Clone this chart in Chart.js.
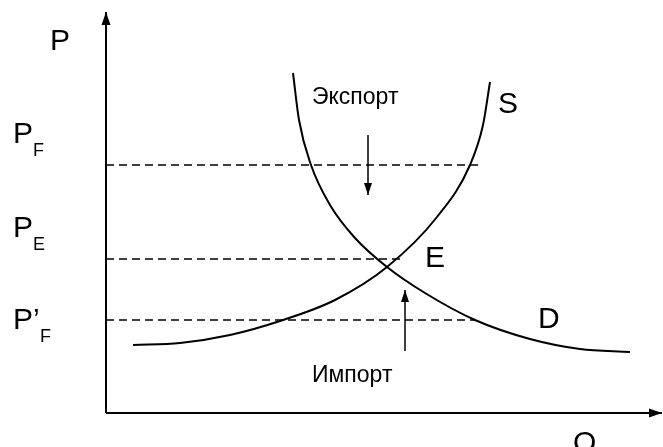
<!DOCTYPE html>
<html>
<head>
<meta charset="utf-8">
<script src="https://cdn.jsdelivr.net/npm/chart.js@4"></script>
<style>
   body { margin: 0; background: #fff; }
   #wrap { width: 663px; height: 447px; }
</style>
</head>
<body>
<div id="wrap"><canvas id="chart"></canvas></div>
<script>
// supply and demand curves (Q, P)
const supplyQ = [2.7, 7.4, 12.4, 17.4, 22.9, 28.1, 33.1, 36.4, 37.7, 38.4];
const supplyP = [6.8, 7.0, 7.8, 9.2, 11.3, 14.6, 19.6, 24.8, 28.8, 33.1];
const demandQ = [18.7, 19.3, 20.5, 22.4, 24.9, 28.1, 31.9, 36.9, 42.4, 47.4, 52.4];
const demandP = [34.0, 29.3, 24.8, 20.8, 17.5, 14.6, 12.0, 9.3, 7.4, 6.4, 6.1];

// price levels and where their dashed lines stop
const priceLevels = [24.8, 15.4, 9.3];
const priceLineEnds = [37.2, 29.9, 36.9];

// export / import arrows: [q, pFrom, pTo]
const exportArrow = [26.2, 27.8, 21.8];
const importArrow = [29.9, 6.2, 12.3];

const axisMaxQ = 55.6;
const axisMaxP = 40.1;

const pairs = (xs, ys) => xs.map((x, i) => ({x: x, y: ys[i]}));

const FONT = "'Liberation Sans', Arial, sans-serif";

// text labels, positioned in data units: [text, q, p, size]
const labels = [
   ["P", -5.6, 36.3, 30],
   ["P", -9.3, 27.0, 30], ["F", -7.3, 25.7, 18],
   ["P", -9.3, 17.6, 30], ["E", -7.3, 16.3, 18],
   ["P’", -9.3, 8.4, 30], ["F", -6.6, 7.1, 18],
   ["Экспорт", 20.6, 30.9, 23],
   ["Импорт", 20.6, 3.1, 23],
   ["S", 39.2, 30.0, 30],
   ["E", 31.9, 14.6, 30],
   ["D", 43.2, 8.5, 30],
   ["Q", 46.7, -3.85, 30]
];

const black = "#000";

const datasets = [
   {data: pairs(supplyQ, supplyP), borderWidth: 2, cubicInterpolationMode: "monotone"},
   {data: pairs(demandQ, demandP), borderWidth: 2, cubicInterpolationMode: "monotone"}
];
priceLevels.forEach((p, i) => {
   datasets.push({data: [{x: 0, y: p}, {x: priceLineEnds[i], y: p}], borderWidth: 1.5, borderDash: [8, 5]});
});
datasets.push({data: [{x: exportArrow[0], y: exportArrow[1]}, {x: exportArrow[0], y: exportArrow[2]}], borderWidth: 1.5, arrow: [8, 12]});
datasets.push({data: [{x: importArrow[0], y: importArrow[1]}, {x: importArrow[0], y: importArrow[2]}], borderWidth: 1.5, arrow: [8, 12]});
// axes
datasets.push({data: [{x: 0, y: 0}, {x: axisMaxQ, y: 0}], borderWidth: 2, arrow: [9, 13]});
datasets.push({data: [{x: 0, y: 0}, {x: 0, y: axisMaxP}], borderWidth: 2, arrow: [9, 13]});

datasets.forEach(ds => {
   ds.borderColor = black;
   ds.pointRadius = 0;
   ds.showLine = true;
   ds.fill = false;
   ds.clip = false;
});

const decor = {
   id: "decor",
   afterDatasetsDraw(chart) {
      const ctx = chart.ctx;
      const xs = chart.scales.x, ys = chart.scales.y;
      ctx.save();
      ctx.fillStyle = black;
      chart.data.datasets.forEach(ds => {
         if (!ds.arrow) return;
         const a = ds.data[ds.data.length - 2], b = ds.data[ds.data.length - 1];
         const x1 = xs.getPixelForValue(a.x), y1 = ys.getPixelForValue(a.y);
         const x2 = xs.getPixelForValue(b.x), y2 = ys.getPixelForValue(b.y);
         const ang = Math.atan2(y2 - y1, x2 - x1);
         const w = ds.arrow[0] / 2, len = ds.arrow[1];
         ctx.beginPath();
         ctx.moveTo(x2, y2);
         ctx.lineTo(x2 - len * Math.cos(ang) + w * Math.sin(ang), y2 - len * Math.sin(ang) - w * Math.cos(ang));
         ctx.lineTo(x2 - len * Math.cos(ang) - w * Math.sin(ang), y2 - len * Math.sin(ang) + w * Math.cos(ang));
         ctx.closePath();
         ctx.fill();
      });
      ctx.textBaseline = "alphabetic";
      ctx.textAlign = "left";
      labels.forEach(l => {
         ctx.font = l[3] + "px " + FONT;
         ctx.fillText(l[0], xs.getPixelForValue(l[1]), ys.getPixelForValue(l[2]));
      });
      ctx.restore();
   }
};

new Chart("chart", {
   type: "scatter",
   data: {datasets: datasets},
   options: {
      responsive: true,
      maintainAspectRatio: false,
      animation: false,
      layout: {padding: 0},
      plugins: {legend: {display: false}, tooltip: {enabled: false}},
      scales: {
         x: {type: "linear", display: false, min: -10.6, max: 55.7},
         y: {type: "linear", display: false, min: -3.4, max: 41.3}
      }
   },
   plugins: [decor]
});
</script>
</body>
</html>
